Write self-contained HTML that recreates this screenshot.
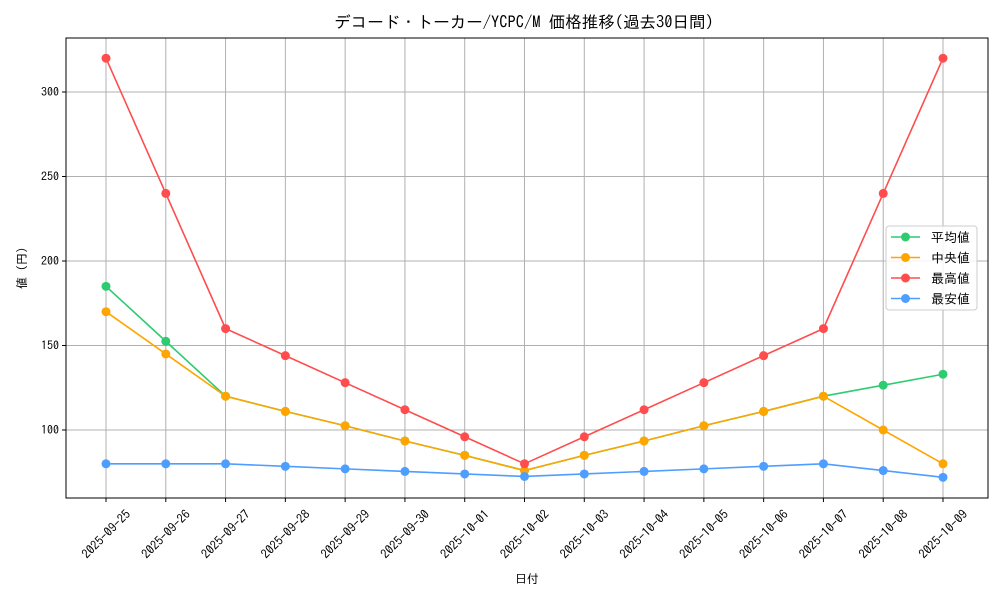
<!DOCTYPE html>
<html><head><meta charset="utf-8"><style>
body{margin:0;background:#fff;}
svg text{font-family:"IPAGothic","Noto Sans CJK JP","Liberation Sans",sans-serif;fill:#000;}
</style></head><body>
<svg id="c" width="1000" height="600" xmlns="http://www.w3.org/2000/svg"></svg>
<script>
const categories=["2025-09-25","2025-09-26","2025-09-27","2025-09-28","2025-09-29","2025-09-30","2025-10-01","2025-10-02","2025-10-03","2025-10-04","2025-10-05","2025-10-06","2025-10-07","2025-10-08","2025-10-09"];
const avgValues=[185,152.5,120,111,102.5,93.5,85,76,85,93.5,102.5,111,120,126.5,133];
const medianValues=[170,145,120,111,102.5,93.5,85,76,85,93.5,102.5,111,120,100,80];
const maxValues=[320,240,160,144,128,112,96,80,96,112,128,144,160,240,320];
const minValues=[80,80,80,78.5,77,75.5,74,72.5,74,75.5,77,78.5,80,76,72];
const yTicks=[100,150,200,250,300];
const seriesNames=["平均値","中央値","最高値","最安値"];
const seriesColors=["#2ecc71","#ffa500","#ff4d4d","#4d9eff"];
const NS="http://www.w3.org/2000/svg";
const svg=document.getElementById('c');
const L=66,R=988,T=38,B=498;
function xs(i){return 106+i*(943-106)/(categories.length-1);}
function ys(v){return 430-(v-100)*1.69;}
function el(t,a,p){const e=document.createElementNS(NS,t);for(const k in a)e.setAttribute(k,a[k]);(p||svg).appendChild(e);return e;}
categories.forEach((c,i)=>{
  const g=el('line',{x1:xs(i),x2:xs(i),y1:T,y2:B,stroke:'#b0b0b0','stroke-width':1});
  
  
  const tk=el('line',{x1:xs(i),x2:xs(i),y1:B,y2:B+4,stroke:'#000'});
  
  
  const ax=xs(i),ay=B+36;
  const t=el('text',{x:ax,y:ay,'font-size':12.5,'text-anchor':'middle','dominant-baseline':'central',transform:`rotate(-45 ${ax} ${ay})`});
  t.textContent=c;
  
  
});
yTicks.forEach(v=>{
  const g=el('line',{x1:L,x2:R,y1:ys(v),y2:ys(v),stroke:'#b0b0b0','stroke-width':1});
  
  
  const tk=el('line',{x1:L-4,x2:L,y1:ys(v),y2:ys(v),stroke:'#000'});
  
  
  const t=el('text',{x:L-7,y:ys(v)+4,'font-size':12,'text-anchor':'end'});
  t.textContent=v;
  
  
});
const frame=el('rect',{x:L,y:T,width:R-L,height:B-T,fill:'none',stroke:'#000','stroke-width':1});


const data=[avgValues,medianValues,maxValues,minValues];
[0,1,2,3].forEach(s=>{
  const pts=data[s].map((v,i)=>xs(i)+','+ys(v)).join(' ');
  const pl=el('polyline',{points:pts,fill:'none',stroke:seriesColors[s],'stroke-width':1.6});
  
  
  data[s].forEach((v,i)=>{
    const c=el('circle',{cx:xs(i),cy:ys(v),r:4.5,fill:seriesColors[s]});
    
    
  });
});
const tt=el('text',{x:524,y:28,'font-size':16.5,'text-anchor':'middle'});
tt.textContent='デコード・トーカー/YCPC/M 価格推移(過去30日間)';


const xt=el('text',{x:527,y:583,'font-size':12,'text-anchor':'middle'});
xt.textContent='日付';


const yt=el('text',{x:26,y:268,'font-size':12,'text-anchor':'middle',transform:'rotate(-90 26 268)'});
yt.textContent='値 (円)';


const lg=el('rect',{x:886,y:226,width:91,height:84,rx:3,fill:'#fff','fill-opacity':0.85,stroke:'#ccc'});


seriesNames.forEach((n,k)=>{
  const y=237+k*20.5;
  const l=el('line',{x1:891,x2:920,y1:y,y2:y,stroke:seriesColors[k],'stroke-width':1.6});
  
  
  const c=el('circle',{cx:905.5,cy:y,r:4.5,fill:seriesColors[k]});
  
  
  const t=el('text',{x:931,y:y+5,'font-size':13});
  t.textContent=n;
  
  
});
</script>
</body></html>
